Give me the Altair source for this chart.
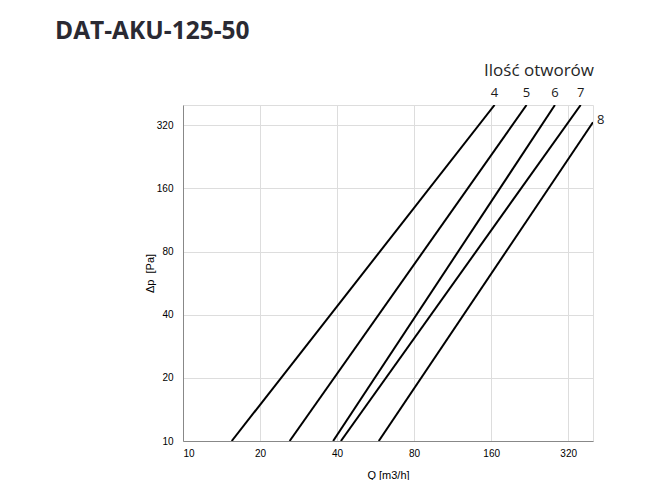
import altair as alt
import pandas as pd

# number of openings (series) and line end points
series = ["4", "5", "6", "7", "8"]
q_start = [15.5, 26.1, 38.6, 41.4, 58.2]
dp_start = [10, 10, 10, 10, 10]
q_end = [165, 220, 284, 358, 400]
dp_end = [400, 400, 400, 400, 331]

x_ticks = [10, 20, 40, 80, 160, 320]
y_ticks = [10, 20, 40, 80, 160, 320]
title_text = "DAT-AKU-125-50"
legend_text = "Ilość otworów"

rows = []
for s, q0, p0, q1, p1 in zip(series, q_start, dp_start, q_end, dp_end):
    rows.append({"n": s, "Q": q0, "dp": p0, "o": 0})
    rows.append({"n": s, "Q": q1, "dp": p1, "o": 1})
df = pd.DataFrame(rows)
ends = pd.DataFrame({"n": series, "Q": q_end, "dp": dp_end})
ends_top = ends[ends["dp"] >= 400]
ends_side = ends[ends["dp"] < 400]

FONT = "Open Sans"
xs = alt.Scale(type="log", base=2, domain=[10, 400], nice=False)
ys = alt.Scale(type="log", base=2, domain=[10, 400], nice=False)

xaxis = alt.Axis(values=x_ticks, title="Q [m3/h]", ticks=False, labelPadding=7,
                 titlePadding=11, format="d", titleFontWeight="normal")
yaxis = alt.Axis(values=y_ticks, title="Δp\u00a0 [Pa]", ticks=False, labelPadding=10,
                 titlePadding=1, format="d", titleFontWeight="normal")

lines = alt.Chart(df).mark_line(color="black", strokeWidth=2, clip=True).encode(
    x=alt.X("Q:Q", scale=xs, axis=xaxis),
    y=alt.Y("dp:Q", scale=ys, axis=yaxis),
    detail="n:N",
    order="o:Q",
)

lab_top = alt.Chart(ends_top).mark_text(
    font=FONT, fontSize=13, color="#1a1a1a", baseline="alphabetic", dy=-8
).encode(x=alt.X("Q:Q", scale=xs), y=alt.Y("dp:Q", scale=ys), text="n:N")

lab_side = alt.Chart(ends_side).mark_text(
    font=FONT, fontSize=13, color="#1a1a1a", align="left", baseline="middle", dx=4, dy=-2
).encode(x=alt.X("Q:Q", scale=xs), y=alt.Y("dp:Q", scale=ys), text="n:N")

legend_title = alt.Chart(pd.DataFrame({"t": [legend_text]})).mark_text(
    font=FONT, fontSize=17, color="#262626", align="center", baseline="alphabetic"
).encode(text="t:N", x=alt.value(356), y=alt.value(-29))

main_title = alt.Chart(pd.DataFrame({"t": [title_text]})).mark_text(
    font=FONT, fontSize=24.5, fontWeight="bold", color="#2a2a33", align="left",
    baseline="alphabetic"
).encode(text="t:N", x=alt.value(-128), y=alt.value(-66))

chart = alt.layer(lines, lab_top, lab_side, legend_title, main_title).properties(
    width=410, height=336,
    autosize=alt.AutoSizeParams(type="none"),
    padding={"left": 175, "top": 97, "right": 66, "bottom": 39},
).configure_view(stroke="#e4e4e4").configure_axis(
    labelFont=FONT, titleFont=FONT, labelFontSize=10.5, titleFontSize=11,
    labelColor="#595959", titleColor="#595959", titleFontWeight="normal",
    gridColor="#d9d9d9", domainColor="#c9c9c9", grid=True,
).configure(background="white")

chart.save("out.html", embed_options={"renderer": "svg", "actions": False})
